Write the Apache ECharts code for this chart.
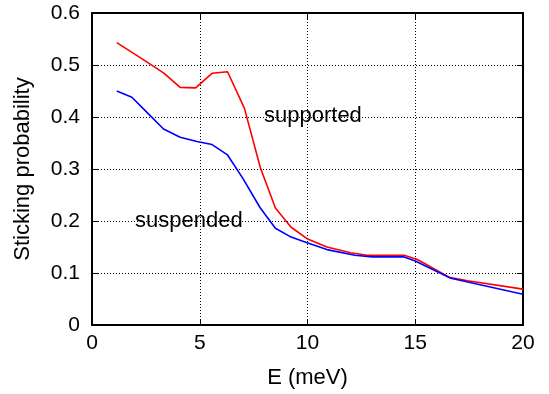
<!DOCTYPE html>
<html>
<head>
<meta charset="utf-8">
<script src="https://cdn.jsdelivr.net/npm/echarts@6/dist/echarts.min.js"></script>
<style>
  html, body { margin: 0; padding: 0; background: #fff; }
  #chart { width: 549px; height: 394px; }
</style>
</head>
<body>
<div id="chart"></div>
<script>
// supported (red) curve: [E, probability]
const supported = [
  [1.15, 0.543], [2.54, 0.506], [3.32, 0.485], [4.09, 0.457], [4.81, 0.456],
  [5.57, 0.484], [6.29, 0.487], [7.07, 0.417], [7.81, 0.303], [8.51, 0.225],
  [9.24, 0.188], [9.98, 0.166], [10.9, 0.150], [12.0, 0.139], [12.77, 0.134],
  [14.48, 0.134], [15.1, 0.126], [16.57, 0.092], [17.43, 0.085], [20, 0.069]
];
// suspended (blue) curve
const suspended = [
  [1.15, 0.450], [1.85, 0.438], [2.62, 0.406], [3.32, 0.377], [4.09, 0.361],
  [4.87, 0.353], [5.57, 0.347], [6.29, 0.327], [7.0, 0.282], [7.81, 0.225],
  [8.51, 0.186], [9.24, 0.169], [9.98, 0.158], [10.9, 0.145], [12.2, 0.134],
  [13.0, 0.131], [14.48, 0.131], [15.0, 0.123], [16.65, 0.090], [20, 0.059]
];

const font = 'Liberation Sans, Arial, Helvetica, sans-serif';

const chart = echarts.init(document.getElementById('chart'));

// 网格虚线
const dotted = { show: true, lineStyle: { color: '#000', width: 1, type: [1, 2] } };
const frameLine = { show: true, onZero: false, lineStyle: { color: '#000', width: 2 } };
const inTick = { show: true, inside: true, length: 6, lineStyle: { color: '#000', width: 1 } };

const option = {
  animation: false,
  grid: { left: 92, right: 26, top: 13, bottom: 66 },
  xAxis: [
    {
      type: 'value', min: 0, max: 20, interval: 5, position: 'bottom',
      axisLine: frameLine, axisTick: inTick, splitLine: dotted,
      axisLabel: { color: '#000', fontSize: 21, fontFamily: font, margin: 8 },
      name: 'E (meV)', nameLocation: 'middle', nameGap: 42,
      nameTextStyle: { color: '#000', fontSize: 22, fontFamily: font }
    },
    {
      type: 'value', min: 0, max: 20, interval: 5, position: 'top',
      axisLine: frameLine, axisTick: inTick, splitLine: { show: false },
      axisLabel: { show: false }
    }
  ],
  yAxis: [
    {
      type: 'value', min: 0, max: 0.6, interval: 0.1, position: 'left',
      axisLine: frameLine, axisTick: inTick, splitLine: dotted,
      axisLabel: { color: '#000', fontSize: 21, fontFamily: font, margin: 12 },
      name: 'Sticking probability', nameLocation: 'middle', nameGap: 58,
      nameTextStyle: { color: '#000', fontSize: 22, fontFamily: font }
    },
    {
      type: 'value', min: 0, max: 0.6, interval: 0.1, position: 'right',
      axisLine: frameLine, axisTick: inTick, splitLine: { show: false },
      axisLabel: { show: false }
    }
  ],
  series: [
    {
      name: 'supported', type: 'line', data: supported, showSymbol: false,
      lineStyle: { color: '#ff0000', width: 1.6 }, z: 3
    },
    {
      name: 'suspended', type: 'line', data: suspended, showSymbol: false,
      lineStyle: { color: '#0000ff', width: 1.6 }, z: 4
    }
  ],
  graphic: [
    {
      type: 'text', left: 264, top: 105,
      style: { text: 'supported', fill: '#000', fontSize: 22, fontFamily: font }
    },
    {
      type: 'text', left: 135, top: 210,
      style: { text: 'suspended', fill: '#000', fontSize: 22, fontFamily: font }
    }
  ]
};

chart.setOption(option);
window.addEventListener('resize', () => {
  chart.resize();
});
</script>
</body>
</html>
